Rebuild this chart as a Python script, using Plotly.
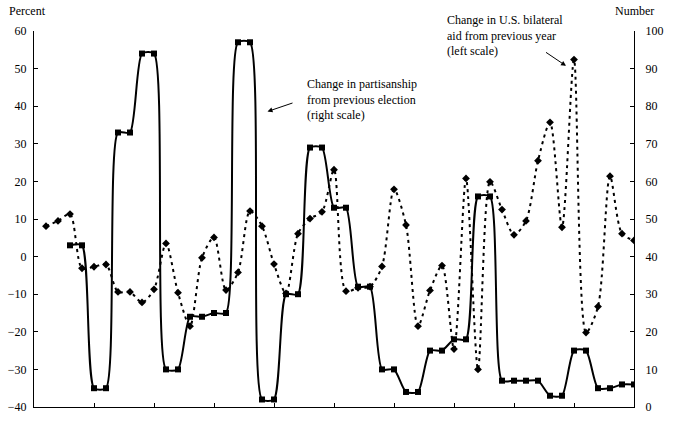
import plotly.graph_objects as go

# Period index (years are not labelled in the chart)
periods = list(range(1, 51))

# Change in U.S. bilateral aid from previous year (percent, left scale)
aid_change = [8.1, 9.5, 11.3, -3.1, -2.7, -2.1, -9.4, -9.4, -12.2, -8.7,
              3.5, -9.6, -18.5, -0.3, 5.1, -8.9, -4.2, 12.1, 8.1, -2.0,
              -9.8, 6.1, 10.1, 11.9, 23.1, -9.2, -8.3, -8.0, -2.6, 17.9,
              8.4, -18.5, -9.0, -2.4, -24.6, 20.8, -30.0, 19.9, 12.5, 5.8,
              9.5, 25.5, 35.7, 7.8, 52.4, -20.2, -13.3, 21.4, 6.1, 4.3]

# Change in partisanship from previous election (number, right scale)
partisan_periods = list(range(3, 51))
partisan_change = [43, 43, 5, 5, 73, 73, 94, 94, 10, 10, 24, 24, 25, 25,
                   97, 97, 2, 2, 30, 30, 69, 69, 53, 53, 32, 32, 10, 10,
                   4, 4, 15, 15, 18, 18, 56, 56, 7, 7, 7, 7, 3, 3, 15, 15,
                   5, 5, 6, 6]

left_ticks = [-40, -30, -20, -10, 0, 10, 20, 30, 40, 50, 60]
right_ticks = [0, 10, 20, 30, 40, 50, 60, 70, 80, 90, 100]

FONT = "Liberation Serif"

fig = go.Figure()
fig.add_trace(go.Scatter(
    x=periods, y=aid_change, mode="lines+markers", yaxis="y",
    line=dict(color="black", width=2, dash="3px,4px", shape="spline", smoothing=0.8),
    marker=dict(symbol="diamond", size=6, color="black"),
    showlegend=False))
fig.add_trace(go.Scatter(
    x=partisan_periods, y=partisan_change, mode="lines+markers", yaxis="y2",
    line=dict(color="black", width=2, shape="spline", smoothing=0.65),
    marker=dict(symbol="square", size=6, color="black"),
    showlegend=False))

L, R, T, B = 34, 41, 31, 8
W, H = 675, 422
pw, ph = W - L - R, H - T - B

def px(xp):
    return (xp - L) / pw

def py(yp):
    return (H - B - yp) / ph

axis_common = dict(showgrid=False, zeroline=False, showline=True, linecolor="black",
                   linewidth=1, ticks="inside", ticklen=4, tickcolor="black",
                   tickfont=dict(family=FONT, size=12, color="black"))

fig.update_layout(
    width=W, height=H, margin=dict(l=L, r=R, t=T, b=B),
    plot_bgcolor="white", paper_bgcolor="white",
    font=dict(family=FONT, size=12, color="black"),
    xaxis=dict(range=[0, 50], tickvals=list(range(0, 51, 5)), showticklabels=False,
               **axis_common),
    yaxis=dict(range=[-40, 60], tickvals=left_ticks, ticklabelstandoff=4, **axis_common),
    yaxis2=dict(range=[0, 100], tickvals=right_ticks, overlaying="y", side="right",
                ticklabelstandoff=8, **axis_common),
    annotations=[
        dict(text="Percent", xref="paper", yref="paper", x=px(7), y=py(11),
             xanchor="left", yanchor="middle", showarrow=False),
        dict(text="Number", xref="paper", yref="paper", x=px(613), y=py(11),
             xanchor="left", yanchor="middle", showarrow=False),
        dict(text="Change in partisanship<br>from previous election<br>(right scale)",
             xref="paper", yref="paper", x=px(305), y=py(101), xanchor="left",
             yanchor="middle", align="left", showarrow=False),
        dict(text="Change in U.S. bilateral<br>aid from previous year<br>(left scale)",
             xref="paper", yref="paper", x=px(445), y=py(35.5), xanchor="left",
             yanchor="middle", align="left", showarrow=False),
        dict(text="", xref="paper", yref="paper", x=px(267.5), y=py(113),
             ax=26.5, ay=-9, showarrow=True, arrowhead=2, arrowsize=1,
             arrowwidth=1, arrowcolor="black"),
        dict(text="", xref="paper", yref="paper", x=px(566), y=py(66.5),
             ax=-21.5, ay=-14.5, showarrow=True, arrowhead=2, arrowsize=1,
             arrowwidth=1, arrowcolor="black"),
    ],
)

fig.write_html("out.html")
